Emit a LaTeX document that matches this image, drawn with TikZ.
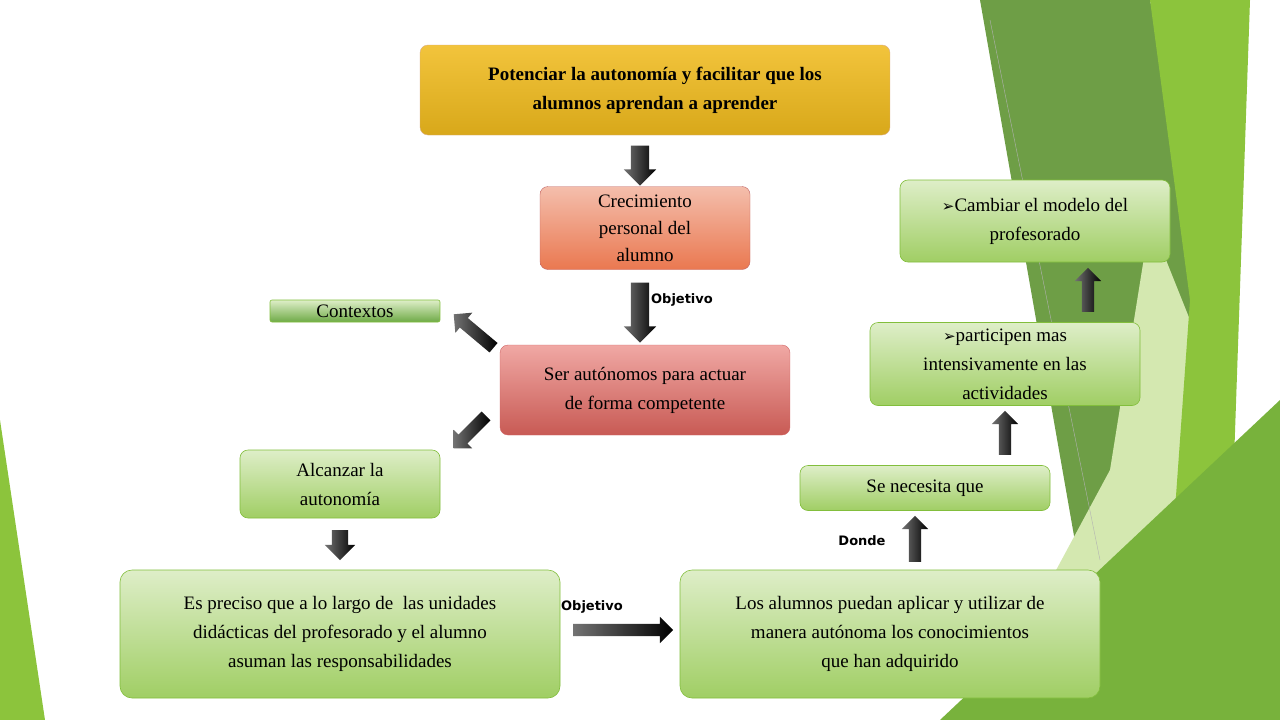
\documentclass[tikz,border=0pt]{standalone}
\usepackage{fontspec}
\setmainfont{Liberation Serif}
\newfontfamily\lab{DejaVu Sans}
\usetikzlibrary{shapes.arrows}
\definecolor{gtop}{RGB}{222,238,200}
\definecolor{gbot}{RGB}{160,206,100}
\definecolor{gdraw}{RGB}{130,190,60}
\definecolor{bgdark}{RGB}{110,158,70}
\definecolor{bgbright}{RGB}{140,196,60}
\definecolor{bgpale}{RGB}{212,232,176}
\definecolor{bgmid}{RGB}{120,178,60}
\begin{document}
\begin{tikzpicture}[x=1pt,y=-1pt,
 gbox/.style={draw=gdraw, line width=0.6pt, rounded corners=8pt, top color=gtop, bottom color=gbot, align=center, font=\fontsize{19}{29}\selectfont, inner sep=0pt},
 barrow/.style={single arrow, left color=black!55, right color=black, draw=none, inner sep=6pt, single arrow head extend=7pt, single arrow tip angle=90, single arrow head indent=0pt},
 lbl/.style={font=\lab\bfseries\fontsize{13}{15}\selectfont}]
\useasboundingbox (0,0) rectangle (1280,720);
\fill[white] (0,0) rectangle (1280,720);
% background
\fill[bgdark] (980,0)--(1150,0)--(1210,300)--(1140,520)--(1080,570)--cycle;
\fill[bgpale] (1150,220)--(1230,420)--(1180,620)--(1040,600)--(1110,470)--cycle;
\fill[bgbright] (1150,0)--(1250,0)--(1225,720)--(1160,720)--(1190,300)--cycle;
\fill[bgmid] (940,720)--(1280,400)--(1280,720)--cycle;
\fill[bgbright] (0,420)--(45,720)--(0,720)--cycle;
\draw[gray!60,line width=0.4pt] (990,20)--(1100,560);
% boxes
\node[draw=orange!70!black!50, rounded corners=8pt, top color={rgb,255:red,242;green,196;blue,60}, bottom color={rgb,255:red,216;green,168;blue,26}, minimum width=470pt, minimum height=90pt, align=center, font=\bfseries\fontsize{19}{29}\selectfont] (top) at (655,90) {Potenciar la autonomía y facilitar que los\\alumnos aprendan a aprender};
\node[draw=red!60!black!60, rounded corners=8pt, top color={rgb,255:red,244;green,190;blue,172}, bottom color={rgb,255:red,234;green,120;blue,80}, minimum width=210pt, minimum height=83pt, align=center, font=\fontsize{19}{27}\selectfont] (crec) at (645,228) {Crecimiento\\personal del\\alumno};
\node[draw=red!70!black!60, rounded corners=8pt, top color={rgb,255:red,240;green,168;blue,164}, bottom color={rgb,255:red,200;green,90;blue,84}, minimum width=290pt, minimum height=90pt, align=center, font=\fontsize{19}{29}\selectfont] (ser) at (645,390) {Ser autónomos para actuar\\de forma competente};
\node[gbox, rounded corners=2pt, minimum width=170pt, minimum height=22pt, top color=gtop, bottom color={rgb,255:red,110;green,170;blue,70}] (ctx) at (355,311) {Contextos};
\node[gbox, minimum width=200pt, minimum height=68pt] (alc) at (340,484) {Alcanzar la\\autonomía};
\node[gbox, rounded corners=12pt, minimum width=440pt, minimum height=128pt] (es) at (340,634) {Es preciso que a lo largo de \ las unidades\\didácticas del profesorado y el alumno\\asuman las responsabilidades};
\node[gbox, rounded corners=12pt, minimum width=420pt, minimum height=128pt] (los) at (890,634) {Los alumnos puedan aplicar y utilizar de\\manera autónoma los conocimientos\\que han adquirido};
\node[gbox, minimum width=250pt, minimum height=45pt] (se) at (925,488) {Se necesita que};
\node[gbox, minimum width=270pt, minimum height=83pt] (par) at (1005,364) {{\lab\fontsize{15}{15}\selectfont ➢}participen mas\\intensivamente en las\\actividades};
\node[gbox, minimum width=270pt, minimum height=82pt] (cam) at (1035,221) {{\lab\fontsize{15}{15}\selectfont ➢}Cambiar el modelo del\\profesorado};
% arrows
\node[barrow, rotate=-90, minimum height=40pt, inner sep=9pt] (a1) at (640,161) {};
\node[barrow, rotate=-90, minimum height=60pt, inner sep=9pt] (a2) at (640,308) {};
\node[barrow, rotate=-90, minimum height=30pt, inner sep=8pt] (a3) at (340,541) {};
\node[barrow, rotate=140, minimum height=52pt] (a4) at (476,333) {};
\node[barrow, rotate=-135, minimum height=46pt] (a5) at (472,430) {};
\node[barrow, minimum height=100pt] (a6) at (620,630) {};
\node[barrow, rotate=90, minimum height=46pt] (a7) at (915,542) {};
\node[barrow, rotate=90, minimum height=44pt] (a8) at (1005,436) {};
\node[barrow, rotate=90, minimum height=44pt] (a9) at (1088,293) {};
% labels
\node[lbl] (l1) at (682,300) {Objetivo};
\node[lbl] (l2) at (592,607) {Objetivo};
\node[lbl] (l3) at (862,541) {Donde};
\end{tikzpicture}
\end{document}
